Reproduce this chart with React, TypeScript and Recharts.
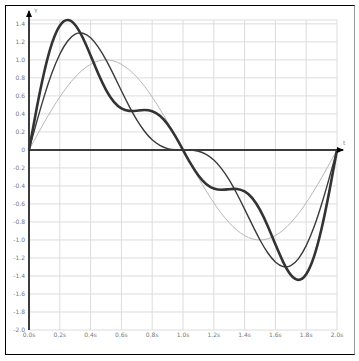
import {
  LineChart,
  Line,
  XAxis,
  YAxis,
  CartesianGrid,
  ReferenceLine,
  ReferenceDot,
} from "recharts";

// time samples, every 0.05 s
const times = [
  0, 0.05, 0.1, 0.15, 0.2, 0.25, 0.3, 0.35, 0.4, 0.45, 0.5, 0.55, 0.6, 0.65,
  0.7, 0.75, 0.8, 0.85, 0.9, 0.95, 1.0, 1.05, 1.1, 1.15, 1.2, 1.25, 1.3, 1.35,
  1.4, 1.45, 1.5, 1.55, 1.6, 1.65, 1.7, 1.75, 1.8, 1.85, 1.9, 1.95, 2.0,
];

// thin grey curve
const wave1 = [
  0, 0.156, 0.309, 0.454, 0.588, 0.707, 0.809, 0.891, 0.951, 0.988, 1.0,
  0.988, 0.951, 0.891, 0.809, 0.707, 0.588, 0.454, 0.309, 0.156, 0,
  -0.156, -0.309, -0.454, -0.588, -0.707, -0.809, -0.891, -0.951, -0.988, -1.0,
  -0.988, -0.951, -0.891, -0.809, -0.707, -0.588, -0.454, -0.309, -0.156, 0,
];

// medium curve
const wave2 = [
  0, 0.311, 0.603, 0.859, 1.063, 1.207, 1.285, 1.296, 1.245, 1.142, 1.0,
  0.833, 0.657, 0.487, 0.333, 0.207, 0.112, 0.05, 0.015, 0.002, 0,
  -0.002, -0.015, -0.05, -0.112, -0.207, -0.333, -0.487, -0.657, -0.833, -1.0,
  -1.142, -1.245, -1.296, -1.285, -1.207, -1.063, -0.859, -0.603, -0.311, 0,
];

// thick curve
const wave3 = [
  0, 0.462, 0.873, 1.188, 1.38, 1.443, 1.388, 1.243, 1.049, 0.845, 0.667,
  0.536, 0.461, 0.434, 0.436, 0.443, 0.429, 0.379, 0.285, 0.153, 0,
  -0.153, -0.285, -0.379, -0.429, -0.443, -0.436, -0.434, -0.461, -0.536, -0.667,
  -0.845, -1.049, -1.243, -1.388, -1.443, -1.38, -1.188, -0.873, -0.462, 0,
];

const xTicks = [0, 0.2, 0.4, 0.6, 0.8, 1.0, 1.2, 1.4, 1.6, 1.8, 2.0];
const yTicks = [
  -2.0, -1.8, -1.6, -1.4, -1.2, -1.0, -0.8, -0.6, -0.4, -0.2, 0, 0.2, 0.4,
  0.6, 0.8, 1.0, 1.2, 1.4,
];

const data = times.map((t, i) => ({
  t,
  a: wave1[i],
  b: wave2[i],
  c: wave3[i],
}));

const tickStyle = { fontSize: 6, fill: "#777", fontFamily: "DejaVu Sans" };

function UpArrow({ cx, cy }: { cx?: number; cy?: number }) {
  if (cx == null || cy == null) return null;
  return (
    <g>
      <path d={`M${cx},${cy} L${cx - 3},${cy + 7} L${cx + 3},${cy + 7} Z`} fill="#000" />
      <text x={cx + 5} y={cy + 3} fontSize={6} fill="#888" fontFamily="DejaVu Sans">
        Y
      </text>
    </g>
  );
}

function RightArrow({ cx, cy }: { cx?: number; cy?: number }) {
  if (cx == null || cy == null) return null;
  return (
    <g>
      <path d={`M${cx},${cy} L${cx - 7},${cy - 3} L${cx - 7},${cy + 3} Z`} fill="#000" />
      <text x={cx - 1} y={cy - 5} fontSize={6} fill="#888" fontFamily="DejaVu Sans">
        t
      </text>
    </g>
  );
}

export default function App() {
  return (
    <div
      style={{
        position: "absolute",
        left: 5,
        top: 5,
        width: 348,
        height: 348,
        borderTop: "1px solid #000",
        borderLeft: "1px solid #000",
        borderBottom: "1px solid #000",
        borderRight: "1px solid #999",
        background: "#fff",
      }}
    >
      <LineChart
        width={348}
        height={348}
        data={data}
        margin={{ top: 14, right: 17, left: 0, bottom: 0 }}
      >
        <CartesianGrid stroke="#dcdcdc" strokeWidth={1} />
        <XAxis
          dataKey="t"
          type="number"
          domain={[0, 2]}
          ticks={xTicks}
          interval={0}
          height={24}
          axisLine={false}
          tickLine={false}
          tickSize={0}
          tickMargin={3}
          tick={tickStyle}
          tickFormatter={(v: number) => `${v.toFixed(1)}s`}
        />
        <YAxis
          type="number"
          domain={[-2, "dataMax"]}
          ticks={yTicks}
          interval={0}
          width={23}
          axisLine={false}
          tickLine={false}
          tickSize={0}
          tickMargin={4}
          tick={tickStyle}
          tickFormatter={(v: number) => (v === 0 ? "0" : v.toFixed(1))}
        />
        <ReferenceLine
          segment={[
            { x: 0, y: 0 },
            { x: 2.04, y: 0 },
          ]}
          stroke="#000"
          strokeWidth={1.5}
          ifOverflow="visible"
        />
        <ReferenceLine
          segment={[
            { x: 0, y: -2 },
            { x: 0, y: 1.54 },
          ]}
          stroke="#000"
          strokeWidth={1.5}
          ifOverflow="visible"
        />
        <ReferenceDot x={0} y={1.555} ifOverflow="visible" shape={UpArrow} />
        <ReferenceDot x={2.045} y={0} ifOverflow="visible" shape={RightArrow} />
        <Line
          dataKey="a"
          type="natural"
          stroke="#b8b8b8"
          strokeWidth={1}
          dot={false}
          isAnimationActive={false}
        />
        <Line
          dataKey="b"
          type="natural"
          stroke="#3a3a3a"
          strokeWidth={1.4}
          dot={false}
          isAnimationActive={false}
        />
        <Line
          dataKey="c"
          type="natural"
          stroke="#333"
          strokeWidth={2.6}
          dot={false}
          isAnimationActive={false}
        />
      </LineChart>
    </div>
  );
}
